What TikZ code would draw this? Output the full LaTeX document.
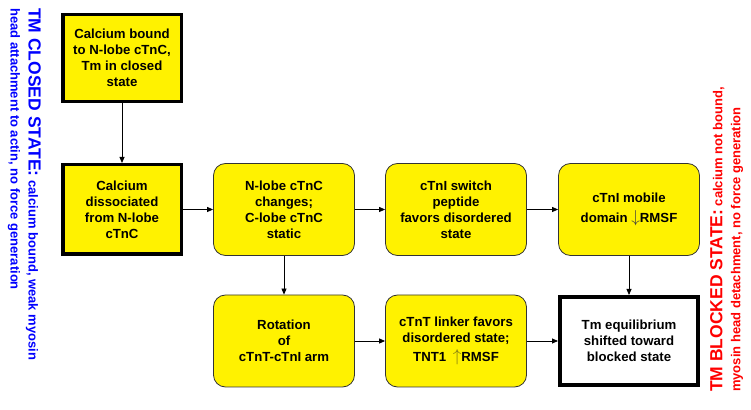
\documentclass[tikz,border=0pt]{standalone}
\usepackage{fontspec}
\setmainfont{Liberation Sans}
\usetikzlibrary{calc}
\usetikzlibrary{positioning}
\usetikzlibrary{arrows.meta}
\tikzstyle{sqnode} = [draw, line width=3.5pt, fill=yellow, align=center, minimum width=118.5pt, minimum height=87pt, inner sep=2pt, font=\fontsize{13.2}{16}\selectfont\bfseries]
\tikzstyle{rdnode} = [draw=black!80, line width=0.8pt, fill=yellow, rounded corners=12pt, align=center, minimum width=141pt, minimum height=92pt, inner sep=2pt, font=\fontsize{13.2}{16}\selectfont\bfseries]
\tikzstyle{endnode} = [draw, line width=4pt, fill=white, align=center, minimum width=138pt, minimum height=88pt, inner sep=2pt, font=\fontsize{13.2}{16}\selectfont\bfseries]
\tikzstyle{statelabel} = [inner sep=0pt, align=left, font=\fontsize{13}{18}\selectfont\bfseries]
\tikzstyle{flowarrow} = [-{Triangle[length=6pt,width=5pt]}, line width=0.8pt]
\newcommand{\bigstate}[1]{{\fontsize{17.5}{18}\selectfont #1}}
\newcommand{\rmsfarrow}[2]{{\color{#1}\fontsize{16}{16}\selectfont$#2$}}

\begin{document}
\begin{tikzpicture}[x=1pt, y=1pt]
    \useasboundingbox (0,0) rectangle (751,409);

    % left column
    \node[sqnode] (ca_bound) at (122,351) {Calcium bound\\to N-lobe cTnC,\\Tm in closed\\state};
    \node[sqnode, minimum height=89.5pt] (ca_dissoc) at ($(ca_bound)+(0,-151.5)$) {Calcium\\dissociated\\from N-lobe\\cTnC};

    % top row
    \node[rdnode] (nlobe) at ($(ca_dissoc)+(162,0)$) {N-lobe cTnC\\changes;\\C-lobe cTnC\\static};
    \node[rdnode] (switch) at ($(nlobe)+(172,0)$) {cTnI switch\\peptide\\favors disordered\\state};
    \node[rdnode] (mobile) at ($(switch)+(173,0)$) {cTnI mobile\\[4pt]domain \rmsfarrow{black!75}{\downarrow}RMSF};

    % bottom row
    \node[rdnode] (rotation) at ($(nlobe)+(0,-131.5)$) {Rotation\\of\\cTnT-cTnI arm};
    \node[rdnode] (linker) at ($(rotation)+(172,0)$) {cTnT linker favors\\disordered state;\\[3pt]TNT1\enspace\rmsfarrow{olive!85!black}{\uparrow}RMSF};
    \node[endnode] (blocked) at ($(linker)+(173,0)$) {Tm equilibrium\\shifted toward\\blocked state};

    \draw[flowarrow] (ca_bound) -- (ca_dissoc);
    \draw[flowarrow] (ca_dissoc) -- (nlobe);
    \draw[flowarrow] (nlobe) -- (switch);
    \draw[flowarrow] (switch) -- (mobile);
    \draw[flowarrow] (nlobe) -- (rotation);
    \draw[flowarrow] (rotation) -- (linker);
    \draw[flowarrow] (linker) -- (blocked);
    \draw[flowarrow] (mobile) -- (blocked);

    % side labels
    \node[statelabel, text=blue, rotate=-90, anchor=north west] (closed) at (41,401) {\bigstate{TM CLOSED STATE:} calcium bound, weak myosin\\head attachment to actin, no force generation};
    \node[statelabel, text=red, rotate=90, anchor=north west] (blockedstate) at (710,17) {\bigstate{TM BLOCKED STATE:} calcium not bound,\\myosin head detachment, no force generation};
\end{tikzpicture}
\end{document}
